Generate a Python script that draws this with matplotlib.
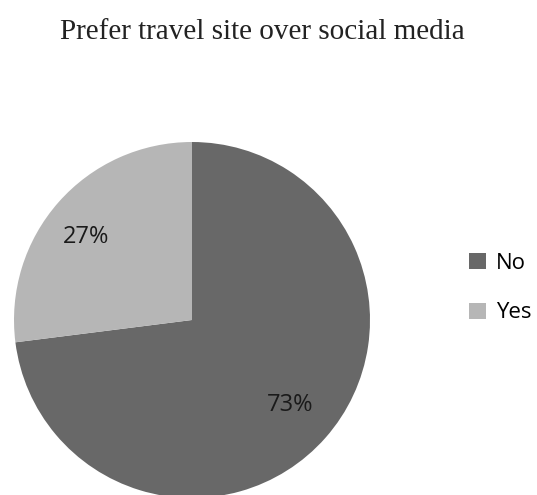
import matplotlib
matplotlib.use("Agg")
import matplotlib.pyplot as plt
from matplotlib.patches import Patch

title = "Prefer travel site over social media"
categories = ["No", "Yes"]
shares = [73, 27]
colors = ["#686868", "#b6b6b6"]

fig = plt.figure(figsize=(5.37, 4.95), dpi=100)
fig.patch.set_facecolor("white")

W, H = 537, 495
cx, cy, r = 192, 320, 178
ax = fig.add_axes([(cx - r) / W, (H - cy - r) / H, 2 * r / W, 2 * r / H])

wedges, texts, autotexts = ax.pie(
    shares, colors=colors, startangle=90, counterclock=False, radius=1,
    autopct=lambda p: f"{p:.0f}%", pctdistance=0.6,
    wedgeprops=dict(edgecolor="none"),
    textprops=dict(family="Open Sans", fontsize=17, color="#1a1a1a"),
)
ax.set_xlim(-1, 1)
ax.set_ylim(-1, 1)
ax.set_aspect("equal")
ax.axis("off")

# place percentage labels
autotexts[0].set_position(((290 - cx) / r, (cy - 405) / r))
autotexts[1].set_position(((86 - cx) / r, (cy - 237) / r))
for t in texts:
    t.set_visible(False)

fig.text(262 / W, 1 - 32 / H, title, ha="center", va="center",
         family="Liberation Serif", fontsize=21, color="#222222")

handles = [Patch(facecolor=c, edgecolor="none") for c in colors]
fig.legend(handles, categories, loc="center left",
           bbox_to_anchor=(449 / W, 1 - 288 / H), frameon=False,
           prop=dict(family="Open Sans", size=16), handlelength=0.75,
           handleheight=0.75, handletextpad=0.45, labelspacing=1.3)

fig.savefig("out.png", dpi=100)
